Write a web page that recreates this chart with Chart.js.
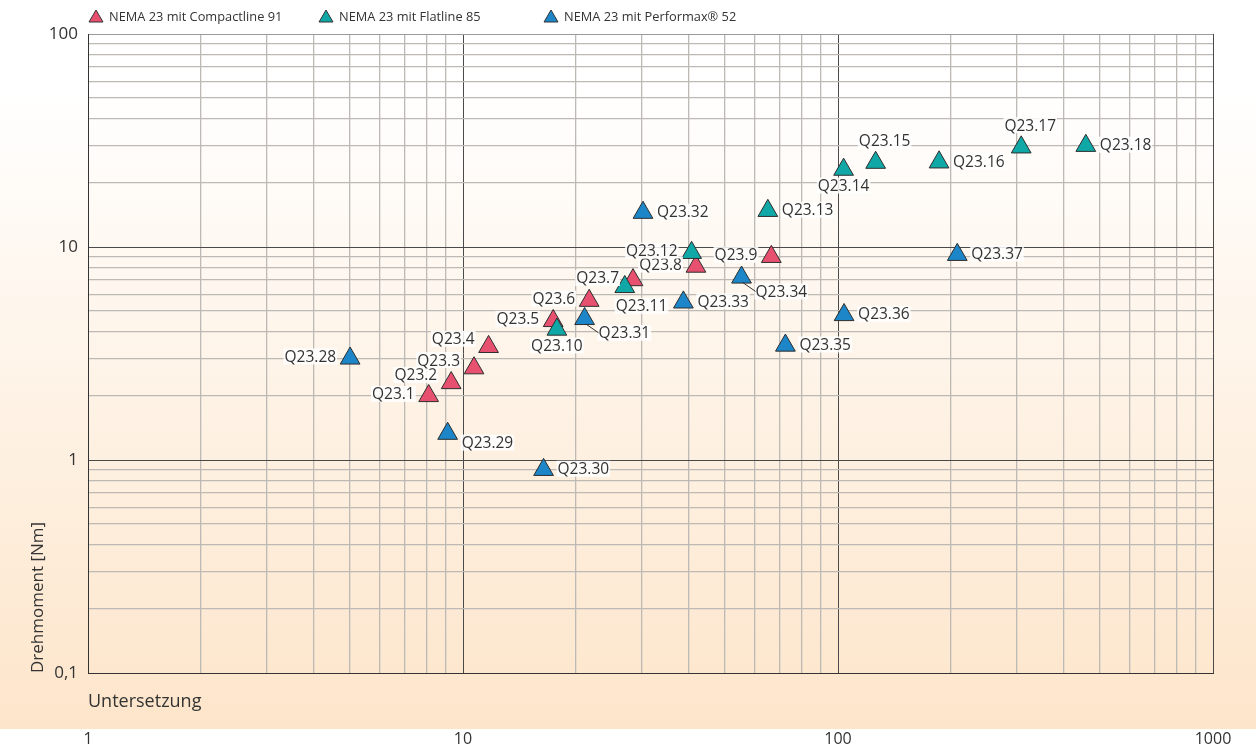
<!DOCTYPE html>
<html>
<head>
<meta charset="utf-8">
<script src="https://cdn.jsdelivr.net/npm/chart.js@4.4.1/dist/chart.umd.min.js"></script>
<style>
  html, body { margin: 0; padding: 0; background: #fff; }
  #wrap { position: relative; width: 1256px; height: 751px; }
  #legend { position: absolute; top: 0; left: 0; width: 100%; height: 32px;
            font: 12.8px 'Open Sans', sans-serif; color: #333; }
  .legend-item { position: absolute; top: 7px; display: flex; align-items: center; white-space: nowrap; }
  .legend-item svg { margin-right: 5px; }
</style>
</head>
<body>
<div id="wrap">
  <canvas id="chart" width="1256" height="751"></canvas>
  <div id="legend"></div>
</div>
<script>
// DATA

const seriesNames = ['NEMA 23 mit Compactline 91', 'NEMA 23 mit Flatline 85', 'NEMA 23 mit Performax® 52'];

const compactNames = ['Q23.1', 'Q23.2', 'Q23.3', 'Q23.4', 'Q23.5', 'Q23.6', 'Q23.7', 'Q23.8', 'Q23.9'];
const compactRatio = [8.1, 9.3, 10.7, 11.7, 17.4, 21.7, 28.4, 41.8, 66.4];
const compactTorque = [2.0, 2.3, 2.7, 3.4, 4.5, 5.6, 7.0, 8.1, 9.0];

const flatNames = ['Q23.10', 'Q23.11', 'Q23.12', 'Q23.13', 'Q23.14', 'Q23.15', 'Q23.16', 'Q23.17', 'Q23.18'];
const flatRatio = [17.8, 27, 40.7, 65, 103.5, 126, 186, 308, 458];
const flatTorque = [4.1, 6.5, 9.4, 14.8, 23.1, 24.9, 25, 29.4, 29.9];

const perfNames = ['Q23.28', 'Q23.29', 'Q23.30', 'Q23.31', 'Q23.32', 'Q23.33', 'Q23.34', 'Q23.35', 'Q23.36', 'Q23.37'];
const perfRatio = [5.0, 9.1, 16.4, 21.1, 30.2, 38.7, 55.3, 72.4, 103.8, 208];
const perfTorque = [3.0, 1.33, 0.9, 4.6, 14.5, 5.5, 7.2, 3.45, 4.8, 9.2];

const xTickValues = [1, 10, 100, 1000];
const xTickLabels = ['1', '10', '100', '1000'];
const yTickValues = [0.1, 1, 10, 100];
const yTickLabels = ['0,1', '1', '10', '100'];

// where each point label sits relative to its triangle
const compactSide = ['left', 'upLeft', 'upLeft', 'upLeft', 'left', 'left', 'left', 'left', 'left'];
const flatSide = ['below', 'belowRight', 'left', 'right', 'below', 'above', 'right', 'above', 'right'];
const perfSide = ['left', 'downRight', 'right', 'leader', 'right', 'right', 'leader', 'right', 'right', 'right'];

const colors = ['rgb(232, 80, 112)', 'rgb(16, 168, 166)', 'rgb(28, 134, 201)'];

Chart.defaults.font.family = "'Open Sans', sans-serif";
Chart.defaults.color = '#333';

function toPoints(xs, ys) {
    return xs.map((x, i) => ({ x: x, y: ys[i] }));
}

function makeSet(i, names, xs, ys, side, order) {
    return {
        label: seriesNames[i],
        data: toPoints(xs, ys),
        pointNames: names,
        labelSide: side,
        order: order,
        pointStyle: 'triangle',
        pointRadius: 11.4,
        pointHoverRadius: 11.4,
        backgroundColor: colors[i],
        borderColor: '#2e2e2e',
        borderWidth: 1
    };
}

// log ticks come out as 1,2..9,10,15,20.. - drop the 15s
function dropHalfSteps(scale) {
    scale.ticks = scale.ticks.filter(t => {
        const m = t.value / Math.pow(10, Math.floor(Math.log10(t.value) + 1e-9));
        return Math.abs(m - 1.5) > 1e-6;
    });
}

function isDecade(v) {
    const l = Math.log10(v);
    return Math.abs(l - Math.round(l)) < 1e-9;
}

function tickText(values, labels) {
    return (v) => {
        const i = values.findIndex(t => Math.abs(t - v) < t * 1e-6);
        return i >= 0 ? labels[i] : '';
    };
}

// BACKGROUND

const backdrop = {
    id: 'backdrop',
    beforeDraw(chart) {
        const ctx = chart.ctx;
        const g = ctx.createLinearGradient(0, 0, 0, 729);
        g.addColorStop(0, '#ffffff');
        g.addColorStop(0.12, '#ffffff');
        g.addColorStop(1, '#fde5ca');
        ctx.save();
        ctx.fillStyle = g;
        ctx.fillRect(0, 0, chart.width, 729);
        ctx.restore();
    }
};

// POINT LABELS

const pointLabels = {
    id: 'pointLabels',
    afterDatasetsDraw(chart) {
        const ctx = chart.ctx;
        ctx.save();
        ctx.font = "15.5px 'Open Sans', sans-serif";
        ctx.textBaseline = 'middle';
        chart.data.datasets.forEach((ds, di) => {
            const meta = chart.getDatasetMeta(di);
            meta.data.forEach((pt, i) => {
                const text = ds.pointNames[i];
                const w = ctx.measureText(text).width;
                let tx, ty;
                switch (ds.labelSide[i]) {
                    case 'left': tx = pt.x - 14 - w; ty = pt.y - 2; break;
                    case 'upLeft': tx = pt.x - 14 - w; ty = pt.y - 8; break;
                    case 'right': tx = pt.x + 14; ty = pt.y - 1; break;
                    case 'below': tx = pt.x - w / 2; ty = pt.y + 16; break;
                    case 'belowRight': tx = pt.x - 9; ty = pt.y + 19; break;
                    case 'above': tx = pt.x + 9 - w / 2; ty = pt.y - 22; break;
                    case 'downRight': tx = pt.x + 14; ty = pt.y + 9; break;
                    case 'leader': tx = pt.x + 14; ty = pt.y + 14; break;
                }
                ctx.fillStyle = 'rgba(255, 255, 255, 0.85)';
                ctx.fillRect(tx - 1, ty - 8, w + 2, 16);
                if (ds.labelSide[i] === 'leader') {
                    ctx.strokeStyle = '#333';
                    ctx.lineWidth = 1;
                    ctx.beginPath();
                    ctx.moveTo(pt.x + 1, pt.y + 5);
                    ctx.lineTo(tx, ty);
                    ctx.stroke();
                }
                ctx.fillStyle = '#333';
                ctx.fillText(text, tx, ty + 1);
            });
        });
        ctx.restore();
    }
};

// CHART

const chart = new Chart(document.getElementById('chart'), {
    type: 'scatter',
    data: {
        datasets: [
            makeSet(0, compactNames, compactRatio, compactTorque, compactSide, 2),
            makeSet(1, flatNames, flatRatio, flatTorque, flatSide, 1),
            makeSet(2, perfNames, perfRatio, perfTorque, perfSide, 0)
        ]
    },
    options: {
        responsive: false,
        animation: false,
        layout: {
            padding: { top: 34, right: 43, left: 0, bottom: 0 }
        },
        scales: {
            x: {
                type: 'logarithmic',
                min: 1,
                max: 1000,
                afterBuildTicks: dropHalfSteps,
                afterFit: (s) => { s.height = 78; },
                ticks: {
                    callback: tickText(xTickValues, xTickLabels),
                    autoSkip: false,
                    maxRotation: 0,
                    padding: 10,
                    font: { size: 16 }
                },
                grid: {
                    drawTicks: true,
                    tickLength: 47,
                    tickColor: 'transparent',
                    color: (c) => isDecade(c.tick.value) ? '#4a4a4a' : '#bdb9b4',
                    lineWidth: (c) => isDecade(c.tick.value) ? 1 : 1.3
                },
                border: { color: '#333' },
                title: {
                    display: true,
                    text: 'Untersetzung',
                    align: 'start',
                    font: { size: 18 },
                    padding: { top: 0, bottom: 38 }
                }
            },
            y: {
                type: 'logarithmic',
                min: 0.1,
                max: 100,
                afterBuildTicks: dropHalfSteps,
                afterFit: (s) => { s.width = 88; },
                ticks: {
                    callback: tickText(yTickValues, yTickLabels),
                    autoSkip: false,
                    padding: 10,
                    font: { size: 17 }
                },
                grid: {
                    drawTicks: false,
                    color: (c) => {
                        const v = c.tick.value;
                        if (v >= 100) return '#9a9a9a';
                        return isDecade(v) ? '#4a4a4a' : '#bdb9b4';
                    },
                    lineWidth: (c) => isDecade(c.tick.value) ? 1 : 1.3
                },
                border: { color: '#333' },
                title: {
                    display: true,
                    text: 'Drehmoment [Nm]',
                    align: 'start',
                    font: { size: 17 },
                    padding: { top: 28, bottom: 0 }
                }
            }
        },
        plugins: {
            legend: { display: false },
            tooltip: { enabled: false }
        }
    },
    plugins: [backdrop, pointLabels]
});

// HTML LEGEND

const legendLeft = [88, 318, 543];
const legendBox = document.getElementById('legend');
chart.data.datasets.forEach((ds, i) => {
    const item = document.createElement('div');
    item.className = 'legend-item';
    item.style.left = legendLeft[i] + 'px';
    item.innerHTML =
        '<svg width="16" height="14" viewBox="0 0 16 14">' +
        '<polygon points="8,1 15,13 1,13" fill="' + ds.backgroundColor + '" stroke="#333" stroke-width="1"/></svg>' +
        '<span>' + ds.label + '</span>';
    legendBox.appendChild(item);
});
</script>
</body>
</html>
